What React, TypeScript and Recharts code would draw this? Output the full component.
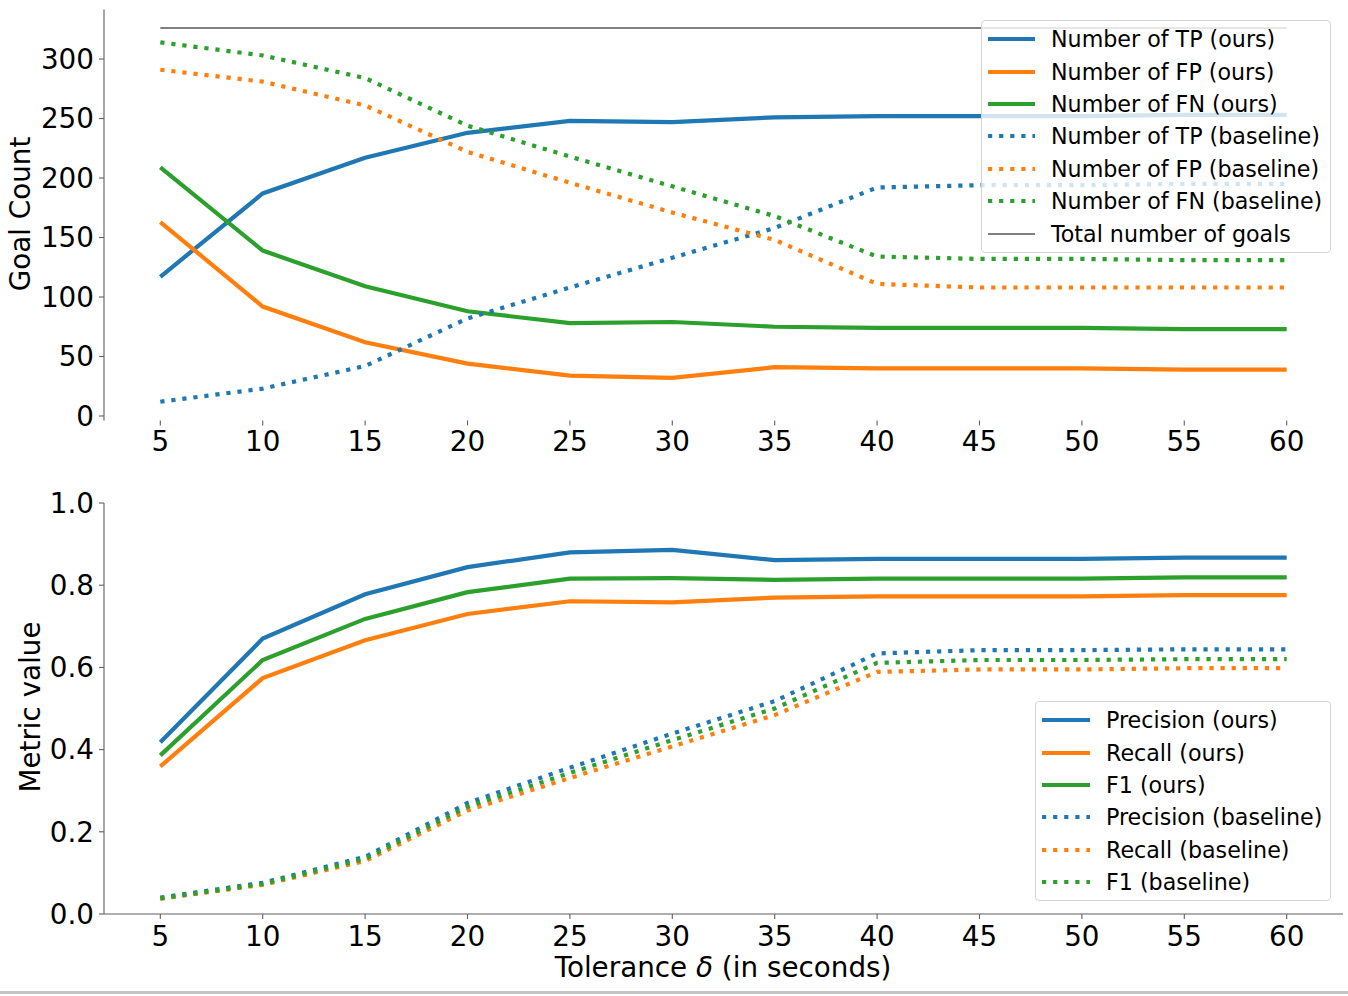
import { LineChart, Line, XAxis, YAxis } from 'recharts';

const FONT = '"DejaVu Sans", sans-serif';
const BLUE = '#1f77b4';
const ORANGE = '#ff7f0e';
const GREEN = '#2ca02c';
const GRAY = '#808080';
const SPINE = '#606060';

// tolerance δ in seconds
const tolerances = [5, 10, 15, 20, 25, 30, 35, 40, 45, 50, 55, 60];

// goal counts
const tpOurs = [117, 187, 217, 238, 248, 247, 251, 252, 252, 252, 253, 253];
const fpOurs = [163, 92, 62, 44, 34, 32, 41, 40, 40, 40, 39, 39];
const fnOurs = [209, 139, 109, 88, 78, 79, 75, 74, 74, 74, 73, 73];
const tpBase = [12, 23, 42, 82, 108, 133, 158, 192, 194, 194, 195, 195];
const fpBase = [291, 281, 261, 222, 196, 171, 148, 111, 108, 108, 108, 108];
const fnBase = [314, 303, 284, 244, 218, 193, 168, 134, 132, 132, 131, 131];
const totalGoals = [326, 326, 326, 326, 326, 326, 326, 326, 326, 326, 326, 326];

// metrics
const precOurs = [0.418, 0.670, 0.778, 0.844, 0.880, 0.886, 0.861, 0.864, 0.864, 0.864, 0.867, 0.867];
const recOurs = [0.359, 0.574, 0.666, 0.730, 0.761, 0.758, 0.770, 0.773, 0.773, 0.773, 0.776, 0.776];
const f1Ours = [0.386, 0.618, 0.718, 0.783, 0.816, 0.817, 0.813, 0.816, 0.816, 0.816, 0.819, 0.819];
const precBase = [0.040, 0.076, 0.139, 0.270, 0.356, 0.439, 0.518, 0.634, 0.642, 0.642, 0.644, 0.644];
const recBase = [0.037, 0.071, 0.129, 0.252, 0.331, 0.408, 0.484, 0.589, 0.595, 0.595, 0.598, 0.598];
const f1Base = [0.038, 0.073, 0.134, 0.261, 0.343, 0.423, 0.500, 0.611, 0.618, 0.618, 0.620, 0.620];

const countTicks = [0, 50, 100, 150, 200, 250, 300];
const metricTicks = [0, 0.2, 0.4, 0.6, 0.8, 1.0];

const countData = tolerances.map((tol, i) => ({
  tol,
  tpOurs: tpOurs[i],
  fpOurs: fpOurs[i],
  fnOurs: fnOurs[i],
  tpBase: tpBase[i],
  fpBase: fpBase[i],
  fnBase: fnBase[i],
  total: totalGoals[i],
}));

const metricData = tolerances.map((tol, i) => ({
  tol,
  precOurs: precOurs[i],
  recOurs: recOurs[i],
  f1Ours: f1Ours[i],
  precBase: precBase[i],
  recBase: recBase[i],
  f1Base: f1Base[i],
}));

interface Series {
  key: string;
  name: string;
  color: string;
  dotted?: boolean;
  thin?: boolean;
}

const countSeries: Series[] = [
  { key: 'tpOurs', name: 'Number of TP (ours)', color: BLUE },
  { key: 'fpOurs', name: 'Number of FP (ours)', color: ORANGE },
  { key: 'fnOurs', name: 'Number of FN (ours)', color: GREEN },
  { key: 'tpBase', name: 'Number of TP (baseline)', color: BLUE, dotted: true },
  { key: 'fpBase', name: 'Number of FP (baseline)', color: ORANGE, dotted: true },
  { key: 'fnBase', name: 'Number of FN (baseline)', color: GREEN, dotted: true },
  { key: 'total', name: 'Total number of goals', color: GRAY, thin: true },
];

const metricSeries: Series[] = [
  { key: 'precOurs', name: 'Precision (ours)', color: BLUE },
  { key: 'recOurs', name: 'Recall (ours)', color: ORANGE },
  { key: 'f1Ours', name: 'F1 (ours)', color: GREEN },
  { key: 'precBase', name: 'Precision (baseline)', color: BLUE, dotted: true },
  { key: 'recBase', name: 'Recall (baseline)', color: ORANGE, dotted: true },
  { key: 'f1Base', name: 'F1 (baseline)', color: GREEN, dotted: true },
];

const LW = 4.2;
const DASH = '4.2 6.9';
const tickStyle = { fill: '#000', fontSize: 27.8, fontFamily: FONT };

function lineProps(s: Series) {
  return {
    stroke: s.color,
    strokeWidth: s.thin ? 2 : LW,
    strokeDasharray: s.dotted ? DASH : undefined,
    strokeLinecap: 'butt' as const,
  };
}

function LegendBox({ items, left, top, width, handleLen, gap }: {
  items: Series[]; left: number; top: number; width: number; handleLen: number; gap: number;
}) {
  return (
    <div style={{
      position: 'absolute', left, top, width,
      boxSizing: 'border-box',
      background: 'rgba(255,255,255,0.8)',
      border: '1px solid #d4d4d4',
      borderRadius: 4,
      padding: '2px 0 2px 6px',
      fontFamily: FONT,
      fontSize: 22.2,
      color: '#000',
    }}>
      {items.map((s) => (
        <div key={s.key} style={{ display: 'flex', alignItems: 'center', height: 32.4 }}>
          <svg width={handleLen} height={10} style={{ marginRight: gap, flex: 'none' }}>
            <line x1={0} y1={5} x2={handleLen} y2={5} {...lineProps(s)} />
          </svg>
          <span style={{ whiteSpace: 'nowrap' }}>{s.name}</span>
        </div>
      ))}
    </div>
  );
}

export default function App() {
  return (
    <div style={{ position: 'absolute', left: 0, top: 0, width: 1348, height: 996, background: '#fff', fontFamily: FONT }}>
      {/* top panel: goal counts */}
      <div style={{ position: 'absolute', left: 0, top: 0 }}>
        <LineChart width={1348} height={470} data={countData} margin={{ top: 9.4, right: 5, bottom: 0, left: 0 }}>
          <XAxis
            dataKey="tol"
            type="number"
            domain={[2.25, 62.75]}
            ticks={tolerances}
            axisLine={false}
            tickLine={{ stroke: SPINE, strokeWidth: 1.1 }}
            tickSize={5}
            tickMargin={6}
            height={49.6}
            tick={tickStyle}
            interval={0}
          />
          <YAxis
            type="number"
            domain={[-3.7, 341.7]}
            ticks={countTicks}
            allowDataOverflow
            width={104}
            axisLine={{ stroke: SPINE, strokeWidth: 1.1 }}
            tickLine={{ stroke: SPINE, strokeWidth: 1.1 }}
            tickSize={5}
            tickMargin={5}
            tick={tickStyle}
            interval={0}
          />
          {countSeries.map((s) => (
            <Line
              key={s.key}
              dataKey={s.key}
              name={s.name}
              type="linear"
              dot={false}
              activeDot={false}
              isAnimationActive={false}
              {...lineProps(s)}
            />
          ))}
        </LineChart>
      </div>
      <LegendBox items={countSeries} left={981} top={20} width={350} handleLen={47} gap={16} />

      {/* bottom panel: metrics */}
      <div style={{ position: 'absolute', left: 0, top: 474 }}>
        <LineChart width={1348} height={490} data={metricData} margin={{ top: 29, right: 5, bottom: 0, left: 0 }}>
          <XAxis
            dataKey="tol"
            type="number"
            domain={[2.25, 62.75]}
            ticks={tolerances}
            axisLine={{ stroke: SPINE, strokeWidth: 1.1 }}
            tickLine={{ stroke: SPINE, strokeWidth: 1.1 }}
            tickSize={5}
            tickMargin={7}
            height={50}
            tick={tickStyle}
            interval={0}
          />
          <YAxis
            type="number"
            domain={[0, 1]}
            ticks={metricTicks}
            allowDataOverflow
            width={104}
            axisLine={{ stroke: SPINE, strokeWidth: 1.1 }}
            tickLine={{ stroke: SPINE, strokeWidth: 1.1 }}
            tickSize={5}
            tickMargin={5}
            tick={tickStyle}
            tickFormatter={(v: number) => v.toFixed(1)}
            interval={0}
          />
          {metricSeries.map((s) => (
            <Line
              key={s.key}
              dataKey={s.key}
              name={s.name}
              type="linear"
              dot={false}
              activeDot={false}
              isAnimationActive={false}
              {...lineProps(s)}
            />
          ))}
        </LineChart>
      </div>
      <LegendBox items={metricSeries} left={1035} top={701} width={296} handleLen={48} gap={16} />

      {/* axis titles */}
      <div style={{
        position: 'absolute', left: 20, top: 214, fontSize: 27.8, whiteSpace: 'nowrap',
        transform: 'translate(-50%, -50%) rotate(-90deg)',
      }}>Goal Count</div>
      <div style={{
        position: 'absolute', left: 30, top: 707, fontSize: 27.8, whiteSpace: 'nowrap',
        transform: 'translate(-50%, -50%) rotate(-90deg)',
      }}>Metric value</div>
      <div style={{
        position: 'absolute', left: 723, top: 967, fontSize: 27.8, whiteSpace: 'nowrap',
        transform: 'translate(-50%, -50%)',
      }}>Tolerance <i>δ</i> (in seconds)</div>

      {/* window edge at the bottom */}
      <div style={{ position: 'absolute', left: 0, top: 991, width: 1348, height: 3, background: '#c4c4c4' }} />
    </div>
  );
}
